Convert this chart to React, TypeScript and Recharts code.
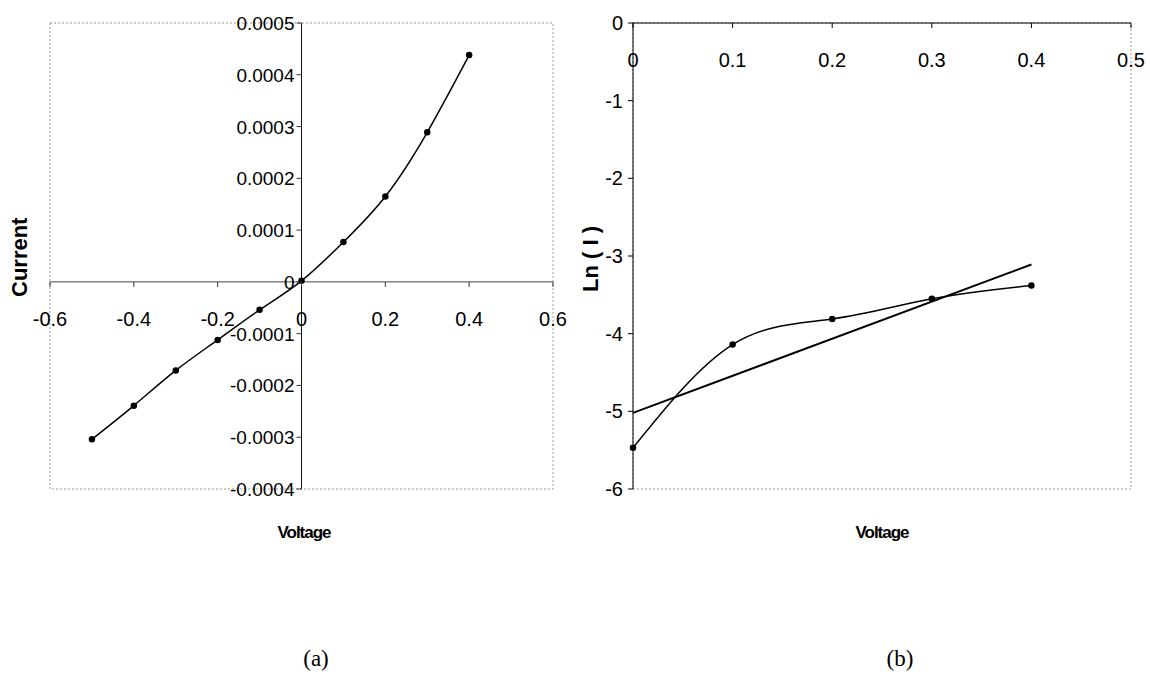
import React from 'react';
import { LineChart, Line, XAxis, YAxis, ReferenceLine, ReferenceArea } from 'recharts';

// (a) I-V curve
const voltageA = [-0.5, -0.4, -0.3, -0.2, -0.1, 0, 0.1, 0.2, 0.3, 0.4];
const currentA = [-0.000304, -0.000239, -0.000171, -0.000112, -0.000054, 0.000002, 0.000077, 0.000165, 0.000289, 0.000438];
const ticksXA = [-0.6, -0.4, -0.2, 0, 0.2, 0.4, 0.6];
const ticksYA = [-0.0004, -0.0003, -0.0002, -0.0001, 0, 0.0001, 0.0002, 0.0003, 0.0004, 0.0005];

// (b) Ln(I) vs V with linear fit
const voltageB = [0, 0.1, 0.2, 0.3, 0.4];
const lnB = [-5.47, -4.14, -3.81, -3.55, -3.38];
const fitV = [0, 0.4];
const fitLn = [-5.02, -3.11];
const ticksXB = [0, 0.1, 0.2, 0.3, 0.4, 0.5];
const ticksYB = [-6, -5, -4, -3, -2, -1, 0];

const FONT = '"Liberation Sans", Arial, sans-serif';
const SERIF = '"Liberation Serif", "Times New Roman", serif';
const W = 575;
const H = 674;

// plot area edges (axis sizes of 1px are added by recharts)
const plotA = { top: 23, right: 553, bottom: 489, left: 50 };
const plotB = { top: 23, right: 1131 - W, bottom: 489, left: 58 };
const marginA = { top: plotA.top, right: W - plotA.right, bottom: H - plotA.bottom - 1, left: plotA.left - 1 };
const marginB = { top: plotB.top - 1, right: W - plotB.right, bottom: H - plotB.bottom, left: plotB.left - 1 };

const domXA: [number, number] = [-0.6, 0.6];
const domYA: [number, number] = [-0.0004, 0.0005];

const zeroYA = plotA.top + ((plotA.bottom - plotA.top) * domYA[1]) / (domYA[1] - domYA[0]);
const zeroXA = plotA.left + ((plotA.right - plotA.left) * -domXA[0]) / (domXA[1] - domXA[0]);

const ivData = voltageA.map((v, i) => ({ v, i: currentA[i] }));
const lnData = voltageB.map((v, i) => ({ v, ln: lnB[i] }));
const fitData = fitV.map((v, i) => ({ v, ln: fitLn[i] }));

const fmtA = (v: number, d: number) => (v === 0 ? '0' : v.toFixed(d));

const XTickA = ({ x, payload }: any) => (
  <g>
    <line x1={x} x2={x} y1={zeroYA} y2={zeroYA + 5} stroke="#333" />
    <text x={x} y={zeroYA + 44} textAnchor="middle" fontSize={20} fontFamily={FONT} fill="#000">
      {fmtA(payload.value, 1)}
    </text>
  </g>
);

const YTickA = ({ y, payload }: any) => (
  <g>
    <line x1={zeroXA - 5} x2={zeroXA} y1={y} y2={y} stroke="#333" />
    <text x={zeroXA - 7} y={y + 7} textAnchor="end" fontSize={19} fontFamily={FONT} fill="#000">
      {fmtA(payload.value, 4)}
    </text>
  </g>
);

const XTickB = ({ x, payload }: any) => (
  <g>
    <line x1={x} x2={x} y1={plotB.top} y2={plotB.top + 5} stroke="#000" />
    <text x={x} y={plotB.top + 44} textAnchor="middle" fontSize={20} fontFamily={FONT} fill="#000">
      {payload.value}
    </text>
  </g>
);

const dot = { r: 2.5, fill: '#000', stroke: '#000' };

export default function App() {
  return (
    <div style={{ position: 'absolute', left: 0, top: 0, width: 1150, height: 674, background: '#fff' }}>
      <div style={{ position: 'absolute', left: 0, top: 0 }}>
        <LineChart width={W} height={H} margin={marginA}>
          <XAxis
            type="number"
            dataKey="v"
            domain={domXA}
            ticks={ticksXA}
            interval={0}
            height={1}
            axisLine={false}
            tickLine={false}
            tick={<XTickA />}
          />
          <YAxis
            type="number"
            dataKey="i"
            domain={domYA}
            ticks={ticksYA}
            interval={0}
            width={1}
            axisLine={false}
            tickLine={false}
            tick={<YTickA />}
          />
          <ReferenceArea x1={-0.6} x2={0.6} y1={-0.0004} y2={0.0005} fill="none" stroke="#999" strokeDasharray="2 2" />
          <ReferenceLine y={0} stroke="#444" />
          <ReferenceLine x={0} stroke="#111" />
          <Line data={ivData} dataKey="i" type="natural" stroke="#000" strokeWidth={1.5} dot={dot} isAnimationActive={false} />
        </LineChart>
      </div>
      <div style={{ position: 'absolute', left: W, top: 0 }}>
        <LineChart width={W} height={H} margin={marginB}>
          <XAxis
            type="number"
            dataKey="v"
            orientation="top"
            domain={[0, 0.5]}
            ticks={ticksXB}
            interval={0}
            height={1}
            axisLine={{ stroke: '#000' }}
            tickLine={false}
            tick={<XTickB />}
          />
          <YAxis
            type="number"
            dataKey="ln"
            domain={[-6, 0]}
            ticks={ticksYB}
            interval={0}
            width={1}
            axisLine={{ stroke: '#000' }}
            tickLine={{ stroke: '#000' }}
            tickSize={5}
            tickMargin={5}
            tick={{ fontSize: 20, fontFamily: FONT, fill: '#000' }}
          />
          <ReferenceArea x1={0} x2={0.5} y1={-6} y2={0} fill="none" stroke="#999" strokeDasharray="2 2" />
          <Line data={lnData} dataKey="ln" type="natural" stroke="#000" strokeWidth={1.5} dot={dot} isAnimationActive={false} />
          <Line data={fitData} dataKey="ln" type="linear" stroke="#000" strokeWidth={2} dot={false} isAnimationActive={false} />
        </LineChart>
      </div>
      <svg width={1150} height={674} style={{ position: 'absolute', left: 0, top: 0, pointerEvents: 'none' }}>
        <text x={27} y={297} transform="rotate(-90 27 297)" textAnchor="start" fontSize={22} fontWeight="bold" fontFamily={FONT}>
          Current
        </text>
        <text x={598} y={292} transform="rotate(-90 598 292)" textAnchor="start" fontSize={22} fontWeight="bold" fontFamily={FONT}>
          Ln ( I )
        </text>
        <text x={304} y={538} textAnchor="middle" fontSize={17} fontWeight="bold" fontFamily={FONT} letterSpacing={-1}>
          Voltage
        </text>
        <text x={882} y={538} textAnchor="middle" fontSize={17} fontWeight="bold" fontFamily={FONT} letterSpacing={-1}>
          Voltage
        </text>
        <text x={316} y={666} textAnchor="middle" fontSize={23} fontFamily={SERIF}>
          (a)
        </text>
        <text x={900} y={666} textAnchor="middle" fontSize={23} fontFamily={SERIF}>
          (b)
        </text>
      </svg>
    </div>
  );
}
